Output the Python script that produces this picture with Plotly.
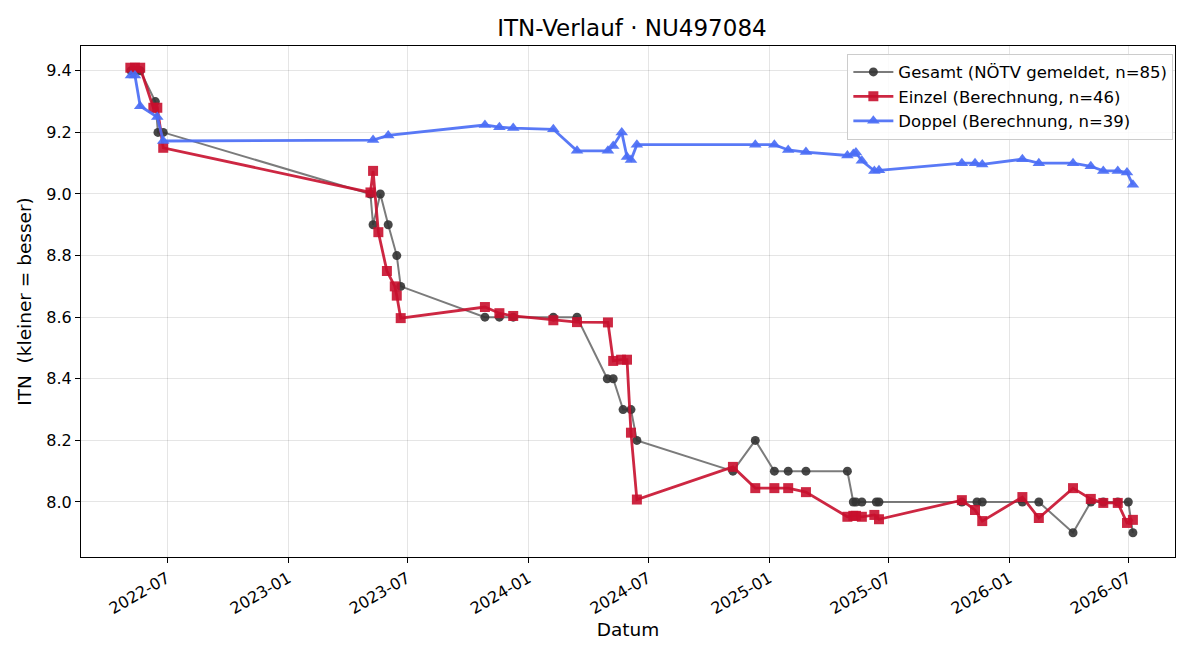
import plotly.graph_objects as go

# ---- data ----
gesamt_dates = ["2022-05-07", "2022-05-13", "2022-05-21", "2022-06-13", "2022-06-17", "2022-06-25",
                "2023-05-06", "2023-05-10", "2023-05-21", "2023-06-02", "2023-06-15", "2023-06-21",
                "2023-10-27", "2023-11-18", "2023-12-09", "2024-02-08", "2024-03-15",
                "2024-04-30", "2024-05-09", "2024-05-24", "2024-06-05", "2024-06-14",
                "2024-11-07", "2024-12-11", "2025-01-09", "2025-01-30", "2025-02-26", "2025-04-30",
                "2025-05-09", "2025-05-13", "2025-05-22", "2025-06-13", "2025-06-17",
                "2025-10-21", "2025-11-13", "2025-11-21", "2026-01-21", "2026-02-15", "2026-04-08",
                "2026-05-05", "2026-05-24", "2026-06-15", "2026-07-01", "2026-07-08"]
gesamt_vals = [9.4, 9.4, 9.4, 9.3, 9.2, 9.2,
               9.0, 8.9, 9.0, 8.9, 8.8, 8.7,
               8.6, 8.6, 8.6, 8.6, 8.6,
               8.4, 8.4, 8.3, 8.3, 8.2,
               8.1, 8.2, 8.1, 8.1, 8.1, 8.1,
               8.0, 8.0, 8.0, 8.0, 8.0,
               8.0, 8.0, 8.0, 8.0, 8.0, 7.9,
               8.0, 8.0, 8.0, 8.0, 7.9]

einzel_dates = ["2022-05-06", "2022-05-13", "2022-05-21", "2022-06-10", "2022-06-16", "2022-06-25",
                "2023-05-06", "2023-05-10", "2023-05-18", "2023-05-31", "2023-06-12", "2023-06-15", "2023-06-21",
                "2023-10-27", "2023-11-18", "2023-12-09", "2024-02-08", "2024-03-15", "2024-05-01",
                "2024-05-09", "2024-05-21", "2024-05-30", "2024-06-05", "2024-06-14",
                "2024-11-07", "2024-12-11", "2025-01-09", "2025-01-30", "2025-02-26",
                "2025-04-30", "2025-05-09", "2025-05-13", "2025-05-22", "2025-06-10", "2025-06-17",
                "2025-10-21", "2025-11-10", "2025-11-21", "2026-01-21", "2026-02-15", "2026-04-08",
                "2026-05-05", "2026-05-24", "2026-06-15", "2026-06-29", "2026-07-08"]
einzel_vals = [9.41, 9.41, 9.41, 9.28, 9.28, 9.15,
               9.005, 9.075, 8.876, 8.75, 8.70, 8.67, 8.597,
               8.633, 8.613, 8.604, 8.59, 8.584, 8.583,
               8.458, 8.462, 8.462, 8.225, 8.008,
               8.114, 8.045, 8.045, 8.045, 8.032,
               7.952, 7.955, 7.955, 7.952, 7.958, 7.944,
               8.006, 7.974, 7.938, 8.016, 7.948, 8.045,
               8.01, 7.997, 7.997, 7.932, 7.942]

doppel_dates = ["2022-05-07", "2022-05-13", "2022-05-21", "2022-06-16", "2022-06-25",
                "2023-05-10", "2023-06-02",
                "2023-10-27", "2023-11-18", "2023-12-09", "2024-02-08", "2024-03-15", "2024-05-01",
                "2024-05-09", "2024-05-22", "2024-05-30", "2024-06-05", "2024-06-14",
                "2024-12-11", "2025-01-09", "2025-01-30", "2025-02-26", "2025-04-30", "2025-05-09",
                "2025-05-13", "2025-05-22", "2025-06-10", "2025-06-17",
                "2025-10-21", "2025-11-10", "2025-11-21", "2026-01-21", "2026-02-15", "2026-04-08",
                "2026-05-05", "2026-05-24", "2026-06-15", "2026-06-29", "2026-07-08"]
doppel_vals = [9.385, 9.385, 9.285, 9.25, 9.172,
               9.175, 9.19,
               9.224, 9.217, 9.214, 9.21, 9.14, 9.14,
               9.156, 9.20, 9.12, 9.11, 9.16,
               9.16, 9.16, 9.143, 9.136, 9.125, 9.13,
               9.135, 9.108, 9.075, 9.077,
               9.10, 9.10, 9.096, 9.113, 9.10, 9.10,
               9.09, 9.075, 9.075, 9.07, 9.03]

y_ticks = [8.0, 8.2, 8.4, 8.6, 8.8, 9.0, 9.2, 9.4]
x_ticks = ["2022-07-01", "2023-01-01", "2023-07-01", "2024-01-01", "2024-07-01",
           "2025-01-01", "2025-07-01", "2026-01-01", "2026-07-01"]
x_tick_labels = ["2022-07", "2023-01", "2023-07", "2024-01", "2024-07",
                 "2025-01", "2025-07", "2026-01", "2026-07"]

FONT = "DejaVu Sans"

fig = go.Figure()
fig.add_trace(go.Scatter(
    x=gesamt_dates, y=gesamt_vals, mode="lines+markers",
    name="Gesamt (NÖTV gemeldet, n=85)",
    line=dict(color="rgba(90,90,90,0.8)", width=2),
    marker=dict(symbol="circle", size=9, color="rgba(51,51,51,0.9)", line=dict(width=0)),
))
fig.add_trace(go.Scatter(
    x=einzel_dates, y=einzel_vals, mode="lines+markers",
    name="Einzel (Berechnung, n=46)",
    line=dict(color="rgba(200,16,46,0.9)", width=2.8),
    marker=dict(symbol="square", size=10, color="rgba(200,16,46,0.9)", line=dict(width=0)),
))
fig.add_trace(go.Scatter(
    x=doppel_dates, y=doppel_vals, mode="lines+markers",
    name="Doppel (Berechnung, n=39)",
    line=dict(color="rgba(75,110,245,0.92)", width=2.8),
    marker=dict(symbol="triangle-up", size=11, color="rgba(75,110,245,0.92)", line=dict(width=0)),
))

axis_common = dict(
    showline=True, linecolor="black", linewidth=1, mirror=True,
    ticks="outside", ticklen=5, tickwidth=1, tickcolor="black",
    showgrid=True, gridcolor="rgba(0,0,0,0.1)", gridwidth=1,
    zeroline=False,
    tickfont=dict(family=FONT, size=16, color="black"),
)

fig.update_layout(
    width=1200, height=660,
    paper_bgcolor="white", plot_bgcolor="white",
    margin=dict(l=81, r=25, t=46, b=103),
    font=dict(family=FONT, color="black"),
    title=dict(text="ITN-Verlauf · NU497084", x=0.5266, xanchor="center", y=0.958, yanchor="middle",
               font=dict(family=FONT, size=23, color="black")),
    xaxis=dict(
        **axis_common,
        type="date",
        range=["2022-02-20", "2026-09-10"],
        tickvals=x_ticks, ticktext=x_tick_labels, tickangle=-30,
        title=dict(text="Datum", font=dict(family=FONT, size=18.5), standoff=6),
    ),
    yaxis=dict(
        **axis_common,
        range=[7.8214, 9.4805],
        tickvals=y_ticks, ticktext=[f"{v:.1f}" for v in y_ticks],
        title=dict(text="ITN\u00a0\u00a0(kleiner = besser)", font=dict(family=FONT, size=18.5), standoff=9),
    ),
    legend=dict(
        x=0.9985, y=0.985, xanchor="right", yanchor="top",
        bgcolor="rgba(255,255,255,0.85)", bordercolor="#cccccc", borderwidth=1,
        font=dict(family=FONT, size=16.5, color="black"),
        itemwidth=40,
    ),
    showlegend=True,
)

fig.write_html("out.html")
